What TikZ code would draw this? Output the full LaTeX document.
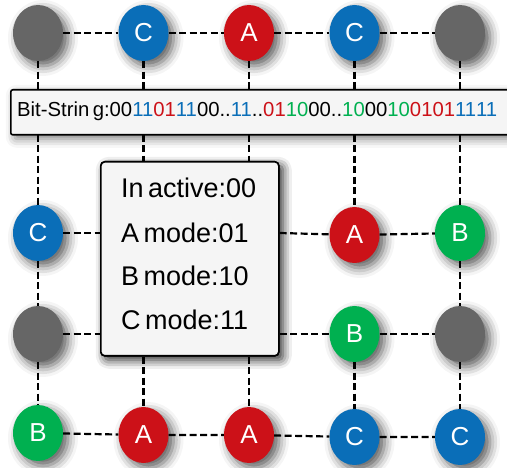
\documentclass[tikz,border=0pt]{standalone}
\usepackage{fontspec}
\setmainfont{Liberation Sans}
\usetikzlibrary{shapes.geometric,shadows.blur}

\definecolor{idlegray}{HTML}{666666}
\definecolor{modeA}{HTML}{CC1118}
\definecolor{modeB}{HTML}{00B050}
\definecolor{modeC}{HTML}{0A6EB8}

\begin{document}
\begin{tikzpicture}[x=1pt, y=-1pt]

% --- 全局样式 ---
\tikzset{
  cell/.style={ellipse, minimum width=50pt, minimum height=56pt, inner sep=0pt,
               text=white, font=\fontsize{26}{26}\selectfont,
               blur shadow={shadow xshift=5pt, shadow yshift=-5pt, shadow blur radius=10pt, shadow opacity=65}},
  idle/.style={cell, fill=idlegray},
  cellA/.style={cell, fill=modeA},
  cellB/.style={cell, fill=modeB},
  cellC/.style={cell, fill=modeC},
  link/.style={dashed, dash pattern=on 7pt off 3.5pt, line width=2.2pt},
  panel/.style={draw, line width=1.6pt, fill=gray!8, rounded corners=4pt,
                blur shadow={shadow xshift=4pt, shadow yshift=-4pt, shadow blur radius=9pt, shadow opacity=50}}
}

% --- 画布大小 ---
\useasboundingbox (0,0) rectangle (507,468);
\clip (0,0) rectangle (507,468);

% --- 设置参数 ---
\def\colA{38}  \def\colB{143.5}  \def\colC{249}  \def\colD{354.5}  \def\colE{460}
\def\rowA{33}  \def\rowB{233}    \def\rowC{334}  \def\rowD{433}

% --- 定义节点 ---
\node[idle]  (n11) at (\colA,\rowA) {};
\node[cellC] (n12) at (\colB,\rowA) {C};
\node[cellA] (n13) at (\colC,\rowA) {A};
\node[cellC] (n14) at (\colD,\rowA) {C};
\node[idle]  (n15) at (\colE,\rowA) {};

\node[cellC] (n21) at (\colA,\rowB) {C};
\node[cellA] (n24) at (\colD,\rowB+2) {A};
\node[cellB] (n25) at (\colE,\rowB) {B};

\node[idle]  (n31) at (\colA,\rowC) {};
\node[cellB] (n34) at (\colD,\rowC) {B};
\node[idle]  (n35) at (\colE,\rowC) {};

\node[cellB] (n41) at (\colA,\rowD) {B};
\node[cellA] (n42) at (\colB,\rowD+2) {A};
\node[cellA] (n43) at (\colC,\rowD+2) {A};
\node[cellC] (n44) at (\colD,\rowD+4) {C};
\node[cellC] (n45) at (\colE,\rowD+4) {C};

% --- 图例框 ---
\node[panel, minimum width=178pt, minimum height=194pt, anchor=north west,
      inner sep=0pt] (legend) at (100,161) {};

% --- 虚线连接 (水平) ---
\draw[link] (n11) -- (n12) -- (n13) -- (n14) -- (n15);
\draw[link] (n21) -- (n21 -| legend.west);
\draw[link] (legend.east |- n21) -- (n24) -- (n25);
\draw[link] (n31) -- (n31 -| legend.west);
\draw[link] (legend.east |- n31) -- (n34) -- (n35);
\draw[link] (n41) -- (n42) -- (n43) -- (n44) -- (n45);

% --- 虚线连接 (竖直) ---
\draw[link] (n11) -- (n21) -- (n31) -- (n41);
\draw[link] (n12) -- (n12 |- legend.north);
\draw[link] (n13) -- (n13 |- legend.north);
\draw[link] (legend.south -| n42) -- (n42);
\draw[link] (legend.south -| n43) -- (n43);
\draw[link] (n14) -- (n24);
\draw[link] (n34) -- (n44);
\draw[link] (n15) -- (n25) -- (n35) -- (n45);

% --- 图例框 (覆盖在连线上) ---
\node[panel, minimum width=178pt, minimum height=194pt, anchor=north west,
      inner sep=0pt] at (100,161) {};
\begin{scope}[every node/.style={anchor=west, inner sep=0pt, font=\fontsize{27}{27}\selectfont}]
  \node (inactive) at (121,188) {In\,active:00};
  \node (amode)    at (121,233) {A\,mode:01};
  \node (bmode)    at (121,276) {B\,mode:10};
  \node (cmode)    at (121,320) {C\,mode:11};
\end{scope}

% --- 位串框 ---
\node[panel, rounded corners=2pt, anchor=north west, minimum width=520pt,
      minimum height=45pt, inner sep=0pt] (bitbox) at (10,89) {};
\node[anchor=west, inner sep=0pt, font=\fontsize{20.3}{21}\selectfont] (bits) at (17,111)
  {Bit-Strin\,g:00\textcolor{modeC}{11}\textcolor{modeA}{01}\textcolor{modeC}{11}00..\textcolor{modeC}{11}..\textcolor{modeA}{01}\textcolor{modeB}{10}00..\textcolor{modeB}{10}00\textcolor{modeB}{10}\textcolor{modeA}{01}\textcolor{modeA}{01}\textcolor{modeC}{11}\textcolor{modeC}{11}};

\end{tikzpicture}
\end{document}
